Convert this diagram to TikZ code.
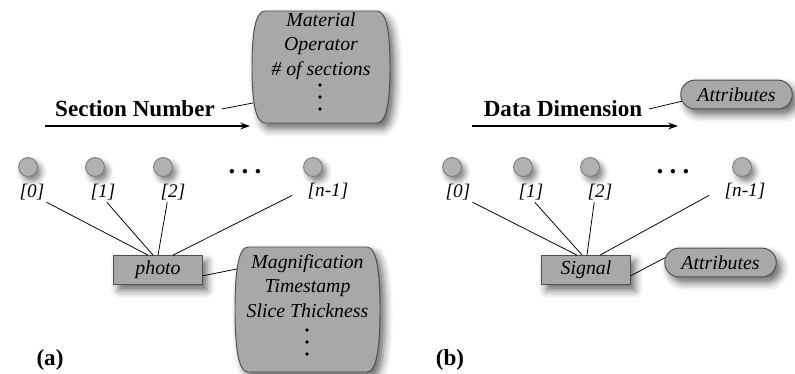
\documentclass[tikz,border=0pt]{standalone}
\usepackage{fontspec}
\setmainfont{Liberation Serif}
\usetikzlibrary{shapes.misc,shadows.blur,arrows.meta}
\definecolor{boxgray}{RGB}{168,168,168}
\definecolor{edgegray}{RGB}{80,80,80}
\newcommand{\hdotz}{\fontsize{14}{14}\selectfont\bfseries .\hspace{3.3pt}.\hspace{3.3pt}.}
\tikzset{
  shade box/.style={fill=boxgray,draw=edgegray,line width=0.5pt,
    blur shadow={shadow xshift=2.5pt,shadow yshift=-3pt,shadow blur radius=4pt,shadow opacity=60}},
  barrel text/.style={align=center,font=\fontsize{10.3}{12.6}\selectfont\itshape,inner sep=1pt},
  pill/.style={shade box,rounded rectangle,minimum width=60pt,minimum height=15pt,
    inner sep=1pt,font=\fontsize{10.3}{12}\selectfont\itshape},
  objbox/.style={shade box,rectangle,minimum width=46pt,minimum height=15pt,
    inner sep=1pt,font=\fontsize{10.3}{12}\selectfont\itshape},
  elem/.style={circle,fill=boxgray!90!white,draw=gray,line width=0.5pt,minimum size=9.8pt,inner sep=0pt,
    blur shadow={shadow xshift=2pt,shadow yshift=-2.5pt,shadow blur radius=3pt,shadow opacity=50}},
  idx/.style={inner sep=1pt,font=\fontsize{10}{12}\selectfont\itshape},
  axis/.style={line width=1pt,-{Stealth[length=5pt,width=3.5pt]}},
  heading/.style={font=\fontsize{12}{14}\selectfont\bfseries},
  link/.style={line width=0.4pt}
}
\begin{document}
\begin{tikzpicture}[x=0.52pt,y=-0.52pt]
\useasboundingbox (0,0) rectangle (795,373);
% ---- (a) sections ----
% barrel holding the section attributes
\draw[shade box] (265,11) -- (377,11) .. controls (387,11) and (390,35) .. (390,67)
  .. controls (390,99) and (387,123) .. (377,123) -- (265,123)
  .. controls (255,123) and (252,99) .. (252,67)
  .. controls (252,35) and (255,11) .. (265,11) -- cycle;
\node[barrel text] (mat) at (321,46) {Material\\Operator\\\# of sections};
\foreach \y in {85,97,109} \fill (320,\y) circle (0.95pt);
\coordinate (matin) at (253,103);
\node[heading] (secnum) at (135,109) {Section Number};
\coordinate (sa) at (45,126);
\coordinate (sb) at (250,126);
\draw[axis] (sa) -- (sb);
\draw[link] (secnum.east) -- (matin);
\foreach \x/\n in {28/0,95/1,163/2,313/n}
  \node[elem] (a\n) at (\x,167) {};
\node (adots) at (245,172) {\hdotz};
\node[idx] (al0) at (32,192) {[0]};
\node[idx] (al1) at (103,192) {[1]};
\node[idx] (al2) at (173,192) {[2]};
\node[idx] (aln) at (328,191) {[n-1]};
\node[objbox] (photo) at (158,270) {photo};
% barrel holding the image attributes
\draw[shade box] (248,247) -- (367,247) .. controls (377,247) and (380,274) .. (380,309.5)
  .. controls (380,345) and (377,372) .. (367,372) -- (248,372)
  .. controls (238,372) and (235,345) .. (235,309.5)
  .. controls (235,274) and (238,247) .. (248,247) -- cycle;
\node[barrel text] (img) at (307.5,286) {Magnification\\Timestamp\\Slice Thickness};
\foreach \y in {330,342,354} \fill (307,\y) circle (0.95pt);
\coordinate (imgin) at (237,269);
\draw[link] (al0.south east) -- ([xshift=-5.2pt]photo.north);
\draw[link] ([xshift=2pt]al1.south) -- ([xshift=-2.6pt]photo.north);
\draw[link] ([xshift=-3pt]al2.south) -- (photo.north);
\draw[link] ([xshift=-7pt,yshift=3pt]aln.south west) -- ([xshift=7.8pt]photo.north);
\draw[link] ([yshift=-3pt]photo.east) -- (imgin);
\node[heading] (capa) at (50,360) {(a)};
% ---- (b) signal ----
\node[pill] (attr1) at (736.5,94.5) {Attributes};
\node[heading] (datadim) at (563,109) {Data Dimension};
\coordinate (da) at (472,126);
\coordinate (db) at (678,126);
\draw[axis] (da) -- (db);
\draw[link] (datadim.east) -- (attr1.187);
\foreach \x/\n in {452/0,523/1,590/2,742/n}
  \node[elem] (b\n) at (\x,167) {};
\node (bdots) at (673,172) {\hdotz};
\node[idx] (bl0) at (458,192) {[0]};
\node[idx] (bl1) at (531,192) {[1]};
\node[idx] (bl2) at (600,192) {[2]};
\node[idx] (bln) at (745,191) {[n-1]};
\node[objbox] (signal) at (586,270) {Signal};
\node[pill] (attr2) at (720.5,262.5) {Attributes};
\draw[link] (bl0.south east) -- ([xshift=-4.7pt]signal.north);
\draw[link] ([xshift=2pt]bl1.south) -- ([xshift=-2pt]signal.north);
\draw[link] ([xshift=-3pt]bl2.south) -- ([xshift=0.5pt]signal.north);
\draw[link] ([xshift=-7pt,yshift=3pt]bln.south west) -- ([xshift=7.3pt]signal.north);
\draw[link] ([yshift=-3pt]signal.east) -- (attr2.175);
\node[heading] (capb) at (450,360) {(b)};
\end{tikzpicture}
\end{document}
